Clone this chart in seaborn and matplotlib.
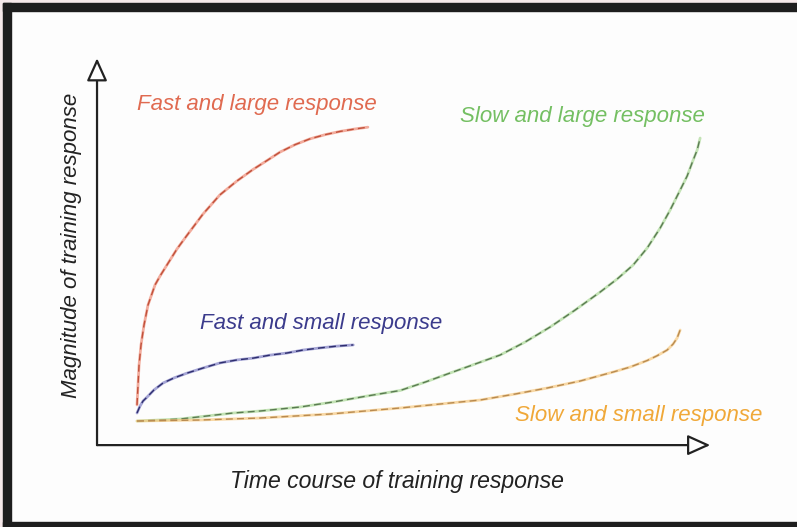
import numpy as np
import pandas as pd
import matplotlib
matplotlib.use("Agg")
import matplotlib.pyplot as plt
from matplotlib.patches import Rectangle
import seaborn as sns

# ----------------------------
# Data
# ----------------------------
fast_large_t = [0, 0.018, 0.036, 0.071, 0.124, 0.195, 0.32, 0.41, 0.53, 0.71, 0.89, 1.17,
                1.47, 1.77, 2.06, 2.31, 2.54, 2.81, 3.07, 3.34, 3.61, 3.87, 4.10]
fast_large_m = [0.57, 1.23, 1.90, 2.57, 3.23, 3.90, 4.57, 4.87, 5.23, 5.77, 6.23, 6.93,
                7.57, 8.03, 8.42, 8.72, 9.00, 9.25, 9.44, 9.58, 9.69, 9.77, 9.83]

fast_small_t = [0, 0.053, 0.107, 0.178, 0.302, 0.462, 0.657, 0.888, 1.172, 1.474, 1.776,
                2.06, 2.36, 2.66, 2.95, 3.25, 3.55, 3.84]
fast_small_m = [0.30, 0.53, 0.70, 0.83, 1.07, 1.30, 1.47, 1.63, 1.80, 1.97, 2.07,
                2.13, 2.23, 2.30, 2.40, 2.47, 2.53, 2.57]

slow_large_t = [0, 0.764, 1.705, 2.185, 2.895, 3.481, 4.085, 4.671, 5.115, 5.559, 6.004,
                6.448, 6.892, 7.336, 7.78, 8.224, 8.526, 8.81, 9.059, 9.29, 9.467, 9.645,
                9.769, 9.876, 9.947, 10.0]
slow_large_m = [0.033, 0.10, 0.30, 0.367, 0.50, 0.667, 0.867, 1.05, 1.33, 1.633, 1.933,
                2.233, 2.667, 3.167, 3.733, 4.333, 4.767, 5.233, 5.80, 6.467, 7.067, 7.733,
                8.20, 8.733, 9.067, 9.467]

slow_small_t = [0, 1.119, 2.185, 3.428, 4.671, 5.382, 6.092, 6.714, 7.282, 7.869, 8.455,
                8.757, 9.059, 9.236, 9.414, 9.52, 9.591, 9.645]
slow_small_m = [0.033, 0.067, 0.133, 0.267, 0.467, 0.60, 0.733, 0.933, 1.133, 1.367, 1.667,
                1.833, 2.05, 2.21, 2.40, 2.60, 2.80, 3.067]

labels = ["Fast and large response", "Fast and small response",
          "Slow and large response", "Slow and small response"]
x_label = "Time course of training response"
y_label = "Magnitude of training response"

curves = [
    (fast_large_t, fast_large_m, "#ee8a74", "#c0503a"),
    (fast_small_t, fast_small_m, "#8080c4", "#2e2e6e"),
    (slow_large_t, slow_large_m, "#abd897", "#5a7a52"),
    (slow_small_t, slow_small_m, "#f7c980", "#b88a50"),
]

# ----------------------------
# Figure
# ----------------------------
sns.set_style("white")
plt.rcParams["font.family"] = ["Liberation Sans", "DejaVu Sans"]

fig = plt.figure(figsize=(7.97, 5.27), dpi=100)
fig.patch.set_facecolor("#fdfdfd")
ax = fig.add_axes([0, 0, 1, 1])
ax.set_facecolor("#fdfdfd")
ax.set_xlim(-2.433, 11.72)
ax.set_ylim(-3.5, 14.07)
ax.axis("off")

for t, m, col, dash_col in curves:
    sns.lineplot(x=t, y=m, ax=ax, color=col, lw=2.0, sort=False,
                 estimator=None, alpha=0.7)
    sns.lineplot(x=t, y=m, ax=ax, color=dash_col, lw=1.0, sort=False,
                 estimator=None, linestyle=(0, (5, 3)))

# axes arrows
arrow = dict(arrowstyle="-|>,head_length=1.0,head_width=0.45", fc="white",
             ec="#222222", lw=1.6, mutation_scale=14, shrinkA=0, shrinkB=0)
ax.annotate("", xy=(-0.71, 12.13), xytext=(-0.71, -0.77), arrowprops=arrow)
ax.annotate("", xy=(10.18, -0.77), xytext=(-0.71, -0.77), arrowprops=arrow)

# curve labels
txt = dict(fontsize=16, style="italic", va="center", ha="left")
ax.text(0.0, 10.57, labels[0], color="#e06a50", **txt)
ax.text(1.12, 3.30, labels[1], color="#3b3b8c", **txt)
ax.text(5.74, 10.17, labels[2], color="#74bf62", **txt)
ax.text(6.71, 0.23, labels[3], color="#f0a838", **txt)

# axis titles
ax.text(4.62, -1.97, x_label, fontsize=16.6, style="italic", color="#222222",
        ha="center", va="center")
ax.text(-1.16, 5.9, y_label, fontsize=16, style="italic", color="#222222",
        ha="center", va="center", rotation=90)

# dark frame on top, left and bottom
W, H = 797, 527
frame = "#1e1e1e"
fig.add_artist(Rectangle((0, 0), 3 / W, 1, transform=fig.transFigure,
                         color="#f6e9ea", zorder=5))
fig.add_artist(Rectangle((0, 524 / H), 1, 3 / H, transform=fig.transFigure,
                         color="#f6e9ea", zorder=5))
fig.add_artist(Rectangle((3 / W, 516 / H), 1, 8 / H, transform=fig.transFigure,
                         color=frame, zorder=6))
fig.add_artist(Rectangle((3 / W, 0), 8 / W, 524 / H, transform=fig.transFigure,
                         color=frame, zorder=6))
fig.add_artist(Rectangle((3 / W, 0), 1, 5 / H, transform=fig.transFigure,
                         color=frame, zorder=6))

plt.savefig("out.png", dpi=100, facecolor=fig.get_facecolor())
